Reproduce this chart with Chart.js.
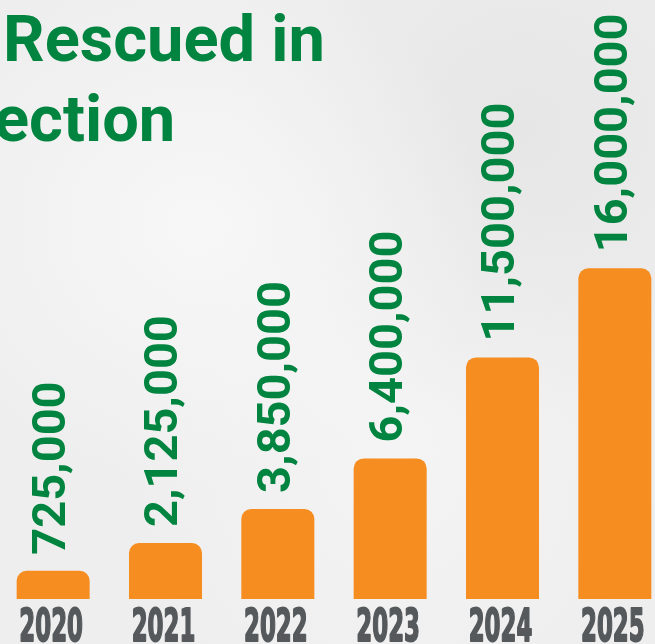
<!DOCTYPE html>
<html>
<head>
<meta charset="utf-8">
<script src="https://cdn.jsdelivr.net/npm/chart.js@4"></script>
<style>
  html, body { margin: 0; padding: 0; overflow: hidden; }
  body {
    width: 655px; height: 644px; position: relative;
    background:
      radial-gradient(ellipse at 30% 35%, #f7f7f7 0%, rgba(247,247,247,0) 45%),
      radial-gradient(ellipse at 80% 20%, #e6e6e6 0%, rgba(230,230,230,0) 40%),
      radial-gradient(ellipse at 60% 70%, #f4f4f4 0%, rgba(244,244,244,0) 50%),
      #eeeeee;
  }
  #wrap { position: absolute; left: -3px; top: 0; width: 674px; height: 644px; }
</style>
</head>
<body>
<div id="wrap"><canvas id="chart"></canvas></div>
<script>
const years = ["2020", "2021", "2022", "2023", "2024", "2025"];
const rescued = [725000, 2125000, 3850000, 6400000, 11500000, 16000000];
const titleLines = ["Rescued in", "ection"];

const green = "#00843f";
const orange = "#f68d21";
const gray = "#55595c";

const ctx = document.getElementById("chart");

const labelsPlugin = {
  id: "labels",
  afterDatasetsDraw(chart) {
    const c = chart.ctx;
    const meta = chart.getDatasetMeta(0);
    c.save();
    c.fillStyle = green;
    c.font = "bold 47px Roboto";
    c.textAlign = "left";
    c.textBaseline = "middle";
    meta.data.forEach((bar, i) => {
      c.save();
      c.translate(bar.x, bar.y - 16);
      c.rotate(-Math.PI / 2);
      c.fillText(rescued[i].toLocaleString("en-US"), 0, 0);
      c.restore();
    });

    // year labels, squeezed to look condensed
    const xs = chart.scales.x;
    c.fillStyle = gray;
    c.strokeStyle = gray;
    c.lineWidth = 2;
    c.lineJoin = "round";
    c.font = "bold 44px 'DejaVu Sans'";
    c.textAlign = "center";
    c.textBaseline = "alphabetic";
    years.forEach((y, i) => {
      c.save();
      c.translate(xs.getPixelForValue(i) - 2, 641);
      c.scale(0.52, 1);
      c.fillText(y, 0, 0);
      c.strokeText(y, 0, 0);
      c.restore();
    });

    // title (cropped on the left)
    c.fillStyle = green;
    c.font = "bold 65px Roboto";
    c.textAlign = "left";
    c.fillText(titleLines[0], 6, 61);
    c.fillText(titleLines[1], -3, 141);
    c.restore();
  }
};

new Chart(ctx, {
  type: "bar",
  data: {
    labels: years,
    datasets: [{
      data: rescued,
      base: -700000,
      backgroundColor: orange,
      borderRadius: 10,
      barPercentage: 0.65,
      categoryPercentage: 1
    }]
  },
  options: {
    responsive: true,
    maintainAspectRatio: false,
    animation: false,
    layout: { padding: { top: 100, bottom: 45, left: 0, right: 0 } },
    plugins: {
      legend: { display: false },
      tooltip: { enabled: false }
    },
    scales: {
      x: { display: false },
      y: { display: false, min: -700000, max: 24500000 }
    }
  },
  plugins: [labelsPlugin]
});
</script>
</body>
</html>
